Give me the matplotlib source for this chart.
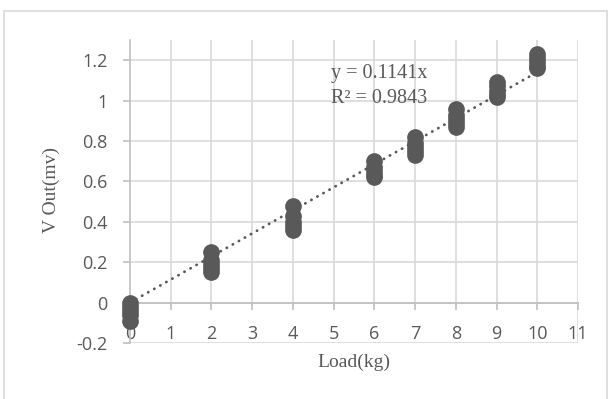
import matplotlib.pyplot as plt
from matplotlib.patches import Rectangle

# readings (kg -> mV), several repeats per load
load_kg = [0, 2, 4, 6, 7, 8, 9, 10]
v_out = [
    [0.00, -0.02, -0.04, -0.06, -0.09],
    [0.25, 0.21, 0.19, 0.17, 0.15],
    [0.48, 0.43, 0.40, 0.38, 0.36],
    [0.70, 0.67, 0.65, 0.63, 0.62],
    [0.82, 0.79, 0.77, 0.75, 0.73],
    [0.96, 0.93, 0.91, 0.89, 0.87],
    [1.09, 1.07, 1.05, 1.03, 1.02],
    [1.23, 1.21, 1.19, 1.17, 1.16],
]
slope = 0.1141
r2 = 0.9843
xticks = list(range(12))
yticks = [-0.2, 0, 0.2, 0.4, 0.6, 0.8, 1, 1.2]
ytick_labels = ['-0.2', '0', '0.2', '0.4', '0.6', '0.8', '1', '1.2']

grid_c = '#d9d9d9'
axis_c = '#bfbfbf'
text_c = '#595959'
mark_c = '#595959'

fig = plt.figure(figsize=(6.14, 3.99), dpi=100)
ax = fig.add_axes([130 / 614, 1 - 343 / 399, 448 / 614, 303 / 399])

# outer chart border
fig.patches.append(Rectangle((4 / 614, -0.05), 603 / 614, 1.05 - 11 / 399,
                             transform=fig.transFigure, fill=False,
                             edgecolor=grid_c, linewidth=1.2))

ax.set_xlim(0, 11)
ax.set_ylim(-0.2, 1.3)

# gridlines
for yv in yticks:
    ax.axhline(yv, color=grid_c, linewidth=1.2, zorder=0)
ax.vlines(xticks[1:-1], 0, 1.3, color=grid_c, linewidth=1.2, zorder=0)
ax.axvline(11, color=grid_c, linewidth=1.2, zorder=0)

for s in ['top', 'right']:
    ax.spines[s].set_visible(False)
ax.spines['left'].set_color(axis_c)
ax.spines['left'].set_linewidth(1.2)
ax.spines['bottom'].set_position(('data', 0))
ax.spines['bottom'].set_color(axis_c)
ax.spines['bottom'].set_linewidth(1.2)

ax.set_xticks(xticks)
ax.set_xticklabels([str(v) for v in xticks])
ax.set_yticks(yticks)
ax.set_yticklabels(ytick_labels)
ax.tick_params(axis='both', colors=axis_c, labelcolor=text_c, labelsize=13,
               length=5, width=1.2)
ax.tick_params(axis='x', pad=11)
ax.tick_params(axis='y', pad=11)
for lab in ax.get_xticklabels() + ax.get_yticklabels():
    lab.set_fontfamily('Open Sans')

# trend line through origin
ax.plot([0, 10], [0, slope * 10], linestyle=(0, (0.1, 2.4)), color=mark_c,
        linewidth=2.0, dash_capstyle='round', zorder=2)

for xv, ys in zip(load_kg, v_out):
    ax.plot([xv] * len(ys), ys, 'o', color=mark_c, markersize=11,
            clip_on=False, zorder=3)

ax.text(4.94, 1.136, 'y = 0.1141x', fontfamily='Liberation Serif',
        fontsize=14.5, color=text_c, va='center', ha='left')
ax.text(4.94, 1.012, 'R² = %.4f' % r2, fontfamily='Liberation Serif',
        fontsize=14.5, color=text_c, va='center', ha='left')

fig.text(354 / 614, 1 - 362 / 399, 'Load(kg)', fontfamily='Liberation Serif',
         fontsize=14, color=text_c, ha='center', va='center')
fig.text(51 / 614, 1 - 190 / 399, 'V Out(mv)', fontfamily='Liberation Serif',
         fontsize=14, color=text_c, ha='center', va='center', rotation=90)

fig.savefig('out.png', dpi=100)
